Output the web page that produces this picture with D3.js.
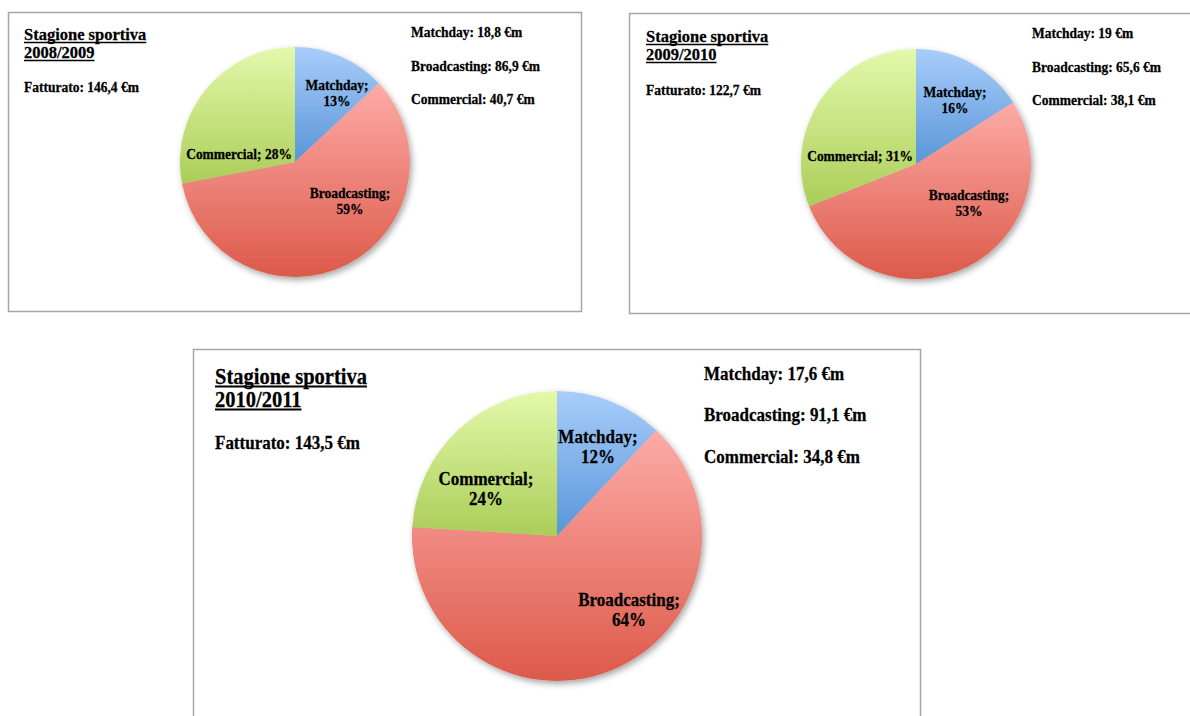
<!DOCTYPE html>
<html>
<head>
<meta charset="utf-8">
<script src="https://cdn.jsdelivr.net/npm/d3@7"></script>
<style>
  html, body { margin: 0; padding: 0; background: #ffffff; }
  svg { display: block; }
  text { font-family: "Liberation Serif", "Times New Roman", serif; font-weight: bold; fill: #000; stroke: #000; stroke-width: 0.25px; }
</style>
</head>
<body>
<svg id="chart" width="1190" height="716"></svg>
<script>
// Revenue breakdown per season (million euro)
const seasons = ["2008/2009", "2009/2010", "2010/2011"];
const categories = ["Matchday", "Broadcasting", "Commercial"];
const revenue0809 = [18.8, 86.9, 40.7];
const revenue0910 = [19, 65.6, 38.1];
const revenue1011 = [17.6, 91.1, 34.8];
const share0809 = [13, 59, 28];
const share0910 = [16, 53, 31];
const share1011 = [12, 64, 24];
const totals = [146.4, 122.7, 143.5];

const revenues = [revenue0809, revenue0910, revenue1011];
const shares = [share0809, share0910, share1011];

// Slice gradients: lighter at the top, deeper at the bottom
const sliceColors = [
  ["#a9cdfb", "#5896d7"],
  ["#fdaba7", "#dc5a4a"],
  ["#e3f9ab", "#abcd58"]
];

// Panel layout (boxes, pie geometry, text placement, label placement)
const panels = [
  {
    box: [8.5, 12.5, 573, 299], cx: 295, cy: 162, r: 115,
    titleSize: 16.5, textSize: 13.5, lineGap: 16, stretch: 1.03,
    titleX: 24, titleY: [40, 58], totalY: 92,
    listX: 411, listY: [37, 71, 104],
    labels: [
      { x: 42, y: -72, lines: 2 },
      { x: 55, y: 36, lines: 2 },
      { x: -56, y: -3, lines: 1 }
    ]
  },
  {
    box: [629.5, 13.5, 580, 300], cx: 916, cy: 164, r: 115,
    titleSize: 16.5, textSize: 13.5, lineGap: 16, stretch: 1.03,
    titleX: 646, titleY: [42, 60], totalY: 95,
    listX: 1032, listY: [38, 72, 105],
    labels: [
      { x: 39, y: -67, lines: 2 },
      { x: 53, y: 36, lines: 2 },
      { x: -56, y: -3, lines: 1 }
    ]
  },
  {
    box: [193.5, 349.5, 727, 400], cx: 557, cy: 536, r: 145,
    titleSize: 20.5, textSize: 17, lineGap: 20, stretch: 1.1,
    titleX: 215, titleY: [384, 407], totalY: 449,
    listX: 704, listY: [380, 421, 463],
    labels: [
      { x: 41, y: -93, lines: 2 },
      { x: 72, y: 70, lines: 2 },
      { x: -71, y: -51, lines: 2 }
    ]
  }
];

const fmt = v => String(v).replace(".", ",");

const svg = d3.select("#chart");
const defs = svg.append("defs");

const shadow = defs.append("filter")
  .attr("id", "pieShadow")
  .attr("x", "-20%").attr("y", "-20%")
  .attr("width", "140%").attr("height", "140%");
shadow.append("feDropShadow")
  .attr("dx", 2).attr("dy", 3)
  .attr("stdDeviation", 3)
  .attr("flood-color", "#000")
  .attr("flood-opacity", 0.35);

sliceColors.forEach((c, i) => {
  const g = defs.append("linearGradient")
    .attr("id", "slice" + i)
    .attr("x1", 0).attr("y1", 0).attr("x2", 0).attr("y2", 1);
  g.append("stop").attr("offset", "0%").attr("stop-color", c[0]);
  g.append("stop").attr("offset", "100%").attr("stop-color", c[1]);
});

// Text placed at a baseline point, optionally stretched vertically
function addText(parent, x, y, size, str, stretch, anchor) {
  return parent.append("text")
    .attr("transform", `translate(${x},${y}) scale(1,${stretch})`)
    .attr("font-size", size)
    .attr("text-anchor", anchor || "start")
    .text(str);
}

const pie = d3.pie().sort(null).value(d => d);

panels.forEach((p, pi) => {
  const g = svg.append("g");

  g.append("rect")
    .attr("x", p.box[0]).attr("y", p.box[1])
    .attr("width", p.box[2]).attr("height", p.box[3])
    .attr("fill", "#fff")
    .attr("stroke", "#a6a6a6")
    .attr("stroke-width", 1.5);

  // Underlined season title
  const titleLines = ["Stagione sportiva", seasons[pi]];
  titleLines.forEach((t, li) => {
    const tx = addText(g, p.titleX, p.titleY[li], p.titleSize, t, p.stretch);
    const w = tx.node().getComputedTextLength();
    g.append("line")
      .attr("x1", p.titleX).attr("x2", p.titleX + w)
      .attr("y1", p.titleY[li] + 2.5).attr("y2", p.titleY[li] + 2.5)
      .attr("stroke", "#000").attr("stroke-width", p.titleSize / 10);
  });

  addText(g, p.titleX, p.totalY, p.textSize,
    "Fatturato: " + fmt(totals[pi]) + " €m", p.stretch);

  categories.forEach((c, ci) => {
    addText(g, p.listX, p.listY[ci], p.textSize,
      c + ": " + fmt(revenues[pi][ci]) + " €m", p.stretch);
  });

  // Pie slices
  const arcs = pie(shares[pi]);
  const arc = d3.arc().innerRadius(0).outerRadius(p.r);
  const pg = g.append("g")
    .attr("transform", `translate(${p.cx},${p.cy})`);
  pg.append("g")
    .attr("filter", "url(#pieShadow)")
    .selectAll("path")
    .data(arcs)
    .join("path")
    .attr("d", arc)
    .attr("fill", (d, i) => `url(#slice${i})`);

  // Slice labels
  arcs.forEach((a, i) => {
    const l = p.labels[i];
    const name = categories[i] + ";";
    const pct = shares[pi][i] + "%";
    if (l.lines === 2) {
      addText(pg, l.x, l.y, p.textSize, name, p.stretch, "middle");
      addText(pg, l.x, l.y + p.lineGap, p.textSize, pct, p.stretch, "middle");
    } else {
      addText(pg, l.x, l.y, p.textSize, name + " " + pct, p.stretch, "middle");
    }
  });
});
</script>
</body>
</html>
